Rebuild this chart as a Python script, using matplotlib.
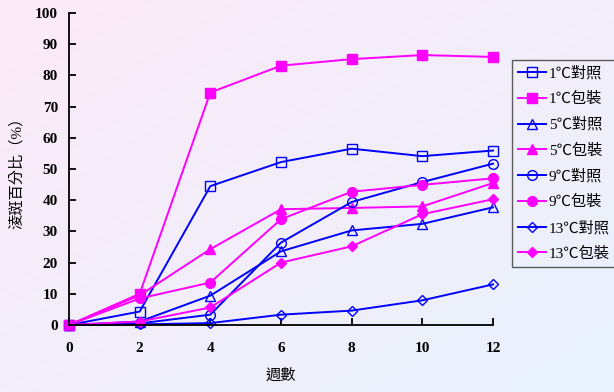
import numpy as np
import matplotlib.pyplot as plt

weeks = [0, 2, 4, 6, 8, 10, 12]

c1_ctrl = [0, 4.3, 44.5, 52.2, 56.5, 54.1, 55.9]
c1_pack = [0, 10.0, 74.5, 83.1, 85.2, 86.5, 85.9]
c5_ctrl = [0, 1.1, 9.4, 23.6, 30.3, 32.4, 37.7]
c5_pack = [0, 9.5, 24.3, 37.1, 37.5, 38.0, 45.5]
c9_ctrl = [0, 0.5, 3.3, 26.4, 39.4, 45.8, 51.7]
c9_pack = [0, 8.5, 13.6, 33.9, 42.7, 44.9, 47.0]
c13_ctrl = [0, 0.2, 0.6, 3.3, 4.6, 7.9, 13.0]
c13_pack = [0, 1.1, 5.6, 20.0, 25.2, 35.5, 40.3]

labels = ['1℃對照', '1℃包裝', '5℃對照', '5℃包裝',
          '9℃對照', '9℃包裝', '13℃對照', '13℃包裝']
series = [c1_ctrl, c1_pack, c5_ctrl, c5_pack, c9_ctrl, c9_pack, c13_ctrl, c13_pack]
markers = ['s', 's', '^', '^', 'o', 'o', 'D', 'D']

blue = '#0000FF'
pink = '#FF00FF'

fig = plt.figure(figsize=(6.14, 3.92), dpi=100)

# gradient background, pink top-left to pale blue bottom-right
bg = fig.add_axes([0, 0, 1, 1], zorder=-1)
gx, gy = np.meshgrid(np.linspace(0, 1, 200), np.linspace(0, 1, 200))
t = (gx + gy) / 2
top = np.array([0xFD, 0xEA, 0xF8]) / 255
bot = np.array([0xE8, 0xF2, 0xFD]) / 255
img = top[None, None, :] * (1 - t[..., None]) + bot[None, None, :] * t[..., None]
bg.imshow(img, aspect='auto', extent=[0, 1, 0, 1])
bg.axis('off')

ax = fig.add_axes([0.1124, 0.171, 0.6905, 0.796])
ax.patch.set_alpha(0)

for i, (vals, lab, mk) in enumerate(zip(series, labels, markers)):
    ctrl = i % 2 == 0
    col = blue if ctrl else pink
    ms = 5.5 if mk == 'D' else 7
    ax.plot(weeks, vals, color=col, lw=1.4, marker=mk, ms=ms,
            mfc='none' if ctrl else col, mec=col, mew=1.0,
            label=lab, clip_on=False)

ax.set_xlim(0, 12)
ax.set_ylim(0, 100)
ax.set_xticks(weeks)
ax.set_yticks(range(0, 101, 10))
ax.spines['top'].set_visible(False)
ax.spines['right'].set_visible(False)
ax.spines['left'].set_linewidth(1.3)
ax.spines['bottom'].set_linewidth(1.3)
ax.tick_params(direction='in', length=5, width=1.3)
ax.tick_params(axis='x', pad=12)
ax.tick_params(axis='y', pad=8)
for lb in ax.get_xticklabels() + ax.get_yticklabels():
    lb.set_fontfamily('Liberation Serif')
    lb.set_fontweight('bold')
    lb.set_fontsize(11)

cjk = ['Liberation Serif', 'Noto Sans CJK TC']
ax.set_xlabel('週數', family=cjk, fontsize=11, labelpad=10)
ax.set_ylabel('淩斑百分比（%）', family=cjk, fontsize=11, labelpad=8)

leg = ax.legend(loc='upper left', bbox_to_anchor=(1.045, 0.85),
                prop={'family': cjk, 'size': 11}, frameon=True,
                fancybox=False, handlelength=1.8, borderaxespad=0,
                labelspacing=0.75, handletextpad=0.2, borderpad=0.4)
leg.get_frame().set_edgecolor('#333333')
leg.get_frame().set_facecolor('none')
leg.get_frame().set_linewidth(1.0)

fig.savefig('out.png', dpi=100)
